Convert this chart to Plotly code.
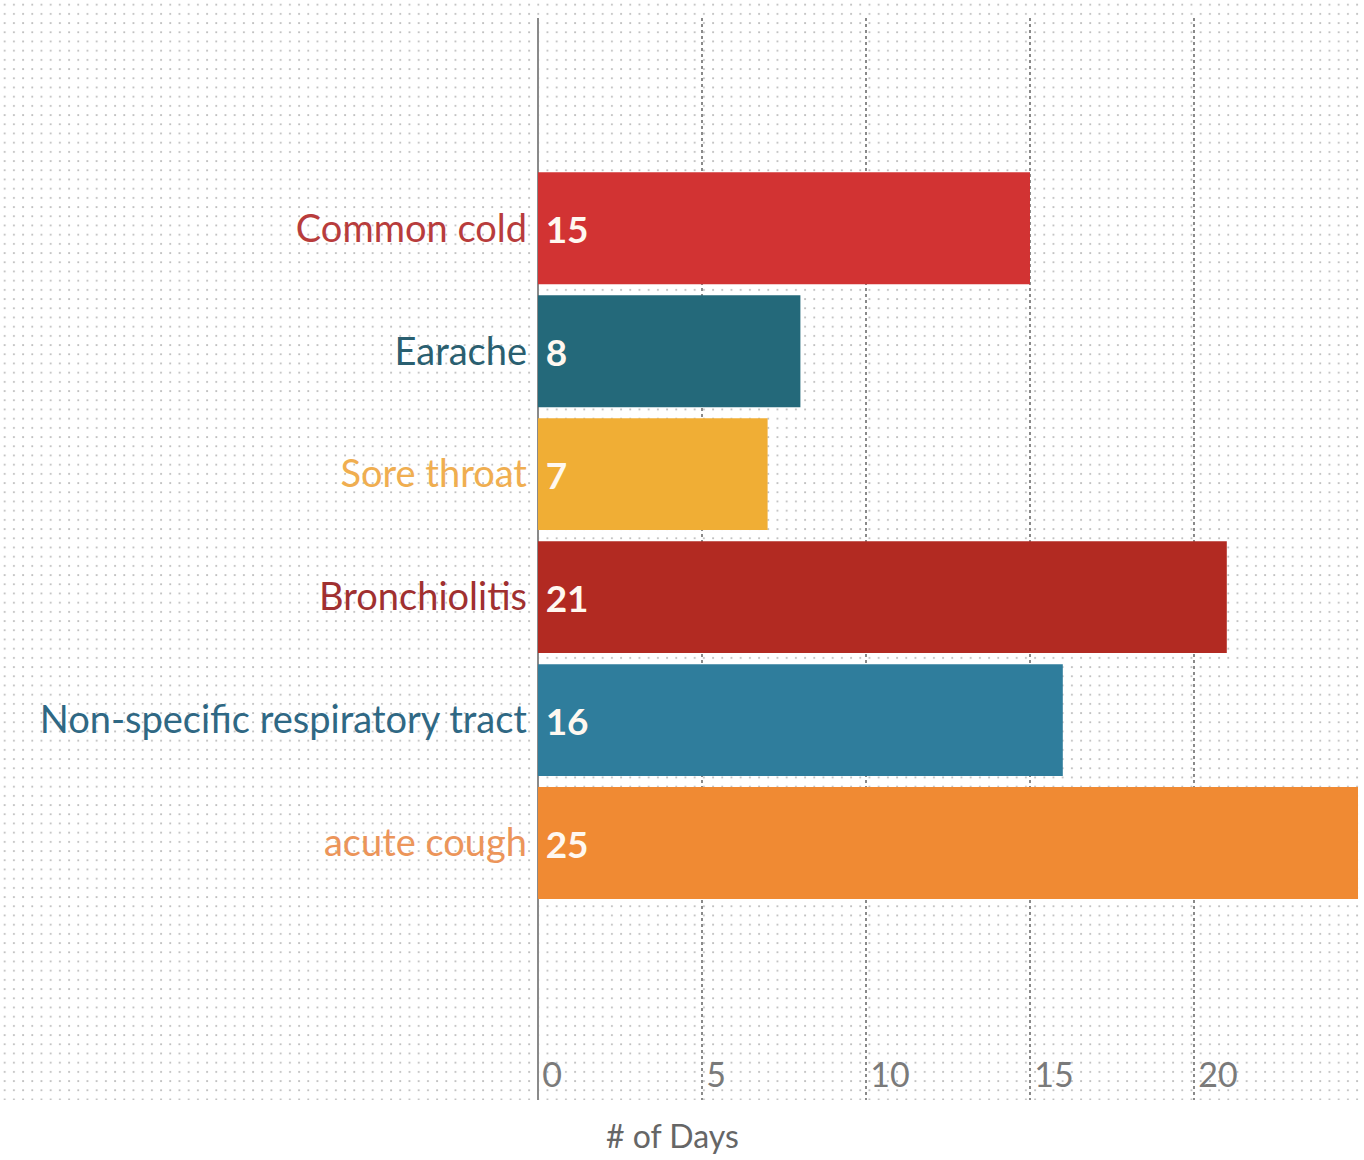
import base64
import plotly.graph_objects as go

categories = ["Common cold", "Earache", "Sore throat", "Bronchiolitis",
              "Non-specific respiratory tract", "acute cough"]
days = [15, 8, 7, 21, 16, 25]
bar_colors = ["#D23333", "#24697A", "#F0AE35", "#B22A22", "#2F7D9C", "#F08A33"]
label_colors = ["#B83C3C", "#2A5F70", "#F0AE50", "#A03030", "#2F6884", "#EC955A"]
x_ticks = [0, 5, 10, 15, 20]
x_title = "# of Days"

# dotted background pattern
svg = (
    '<svg xmlns="http://www.w3.org/2000/svg" width="1364" height="1100" '
    'preserveAspectRatio="none">'
    '<defs><pattern id="p" width="9.2" height="9.2" patternUnits="userSpaceOnUse">'
    '<rect x="3.8" y="3.8" width="1.8" height="1.8" fill="#bdbdbd"/></pattern></defs>'
    '<rect width="1364" height="1100" fill="url(#p)"/></svg>'
)
svg_uri = "data:image/svg+xml;base64," + base64.b64encode(svg.encode()).decode()

L, R, T, B = 538, 6, 18, 60
W, H = 1364, 1160
pw, ph = W - L - R, H - T - B

ticktext = [f'<span style="color:{c}">{t}</span>' for t, c in zip(categories, label_colors)]

fig = go.Figure(go.Bar(
    x=days, y=categories, orientation="h",
    marker=dict(color=bar_colors, line=dict(width=0)),
    text=[f"\u2009{d}" for d in days], textposition="inside", insidetextanchor="start",
    textfont=dict(family="Lato", size=37, color="#FFF8F0", weight="bold"),
    width=0.91, cliponaxis=False,
))

fig.update_layout(
    width=W, height=H,
    margin=dict(l=L, r=R, t=T, b=B),
    paper_bgcolor="white", plot_bgcolor="rgba(0,0,0,0)",
    showlegend=False,
    font=dict(family="Lato", color="#777777"),
    images=[dict(source=svg_uri, xref="paper", yref="paper",
                 x=-L / pw, y=1 + T / ph, sizex=W / pw, sizey=1100 / ph,
                 xanchor="left", yanchor="top", sizing="stretch", layer="below")],
    xaxis=dict(range=[0, 25], tickvals=x_ticks, ticktext=[f"\u2009{v}" for v in x_ticks],
               showgrid=True, gridcolor="#8a8a8a",
               griddash="dot", gridwidth=1.5, zeroline=True, zerolinecolor="#8a8a8a",
               zerolinewidth=1.5, ticklabelposition="inside right",
               tickfont=dict(size=34, color="#7a7a7a"), ticks="", showline=False),
    yaxis=dict(type="category", categoryorder="array", categoryarray=categories,
               tickvals=categories, ticktext=ticktext, range=[7.09, -1.71],
               tickfont=dict(size=38), ticks="", ticklabelstandoff=10,
               showgrid=False, zeroline=False, showline=False),
    annotations=[dict(text=x_title, xref="paper", yref="paper",
                      x=(672 - L) / pw, y=-(1135 - (H - B)) / ph,
                      xanchor="center", yanchor="middle", showarrow=False,
                      font=dict(size=32, color="#666666"))],
)

fig.write_html("out.html")
